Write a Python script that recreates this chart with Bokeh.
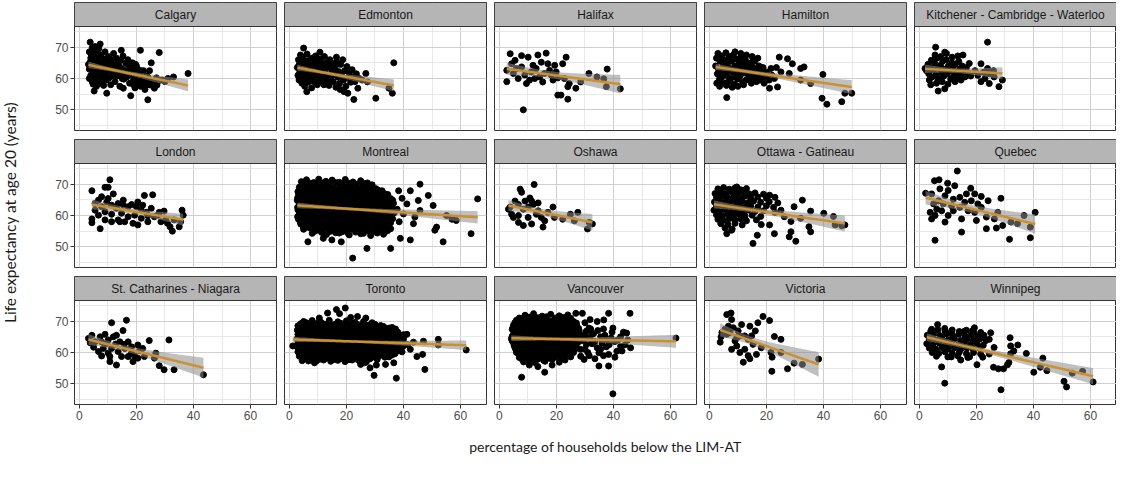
import numpy as np
from bokeh.plotting import figure
from bokeh.layouts import gridplot, row, column
from bokeh.models import Range1d, FixedTicker, Grid
from bokeh.core.properties import value
from bokeh.embed import file_html
from bokeh.resources import INLINE

# ---------------- data ----------------
cities = ["Calgary", "Edmonton", "Halifax", "Hamilton", "Kitchener - Cambridge - Waterloo",
          "London", "Montreal", "Oshawa", "Ottawa - Gatineau", "Quebec",
          "St. Catharines - Niagara", "Toronto", "Vancouver", "Victoria", "Winnipeg"]

x_ticks = [0, 20, 40, 60]
x_minor = [10, 30, 50]
y_ticks = [50, 60, 70]
y_minor = [45, 55, 65, 75]

x_title = "percentage of households below the LIM-AT"
y_title = "Life expectancy at age 20 (years)"

calgary = [(3.8,71.6),(7.3,71.0),(14.7,69.0),(21.4,69.0),(28.0,68.3),(38.1,61.6),(26.3,56.9),(27.2,57.9),(24.0,53.2),(18.0,54.5),(9.6,55.3),(5.2,56.0),(15.4,56.9),(25.2,65.0),(24.6,62.5),
 (3.5,63.0),(3.8,65.2),(4.0,61.0),(4.2,67.5),(4.5,59.0),(4.6,63.8),(5.0,66.0),(5.1,61.8),(5.3,68.5),(5.5,64.5),(5.6,60.0),(5.9,62.5),(6.0,57.5),(6.2,66.8),(6.4,64.0),(6.6,61.0),(6.8,69.5),(7.0,63.0),(7.1,58.5),(7.3,65.5),(7.6,67.5),(7.8,60.5),(8.0,62.0),(8.2,64.8),(8.5,57.8),(8.6,66.2),(8.9,61.5),(9.0,68.5),(9.3,63.5),(9.5,59.5),(9.8,65.8),(10.0,62.2),(10.2,67.0),(10.5,60.2),(10.7,64.2),(11.0,58.0),(11.2,66.0),(11.5,62.8),(11.8,61.0),(12.0,68.0),(12.3,64.5),(12.5,59.0),(12.8,63.2),(13.0,66.5),(13.3,60.8),(13.6,62.0),(14.0,64.0),(14.2,57.5),(14.5,65.8),(14.8,61.5),(15.0,63.0),(15.3,67.2),(15.6,59.8),(16.0,62.5),(16.3,64.8),(16.6,60.5),(17.0,66.0),(17.3,62.0),(17.6,58.5),(18.0,63.8),(18.3,61.0),(18.6,65.0),(19.0,59.5),(19.3,62.8),(19.7,64.5),(20.0,60.8),(20.4,63.0),(20.8,58.0),(21.2,61.8),(21.6,62.5),(22.0,60.0),(22.5,62.5),(23.0,59.0),(23.5,60.8),(24.0,60.5),(24.5,58.0),(25.0,59.5),(26.0,58.5),(27.5,59.0),(29.0,59.5),(31.0,60.0),(3.5,60.0),(4.0,64.5),(5.5,62.0),(6.0,65.0),(7.5,61.5),(9.0,64.0),(10.5,63.0),(12.0,61.0),(13.5,65.0),(16.0,61.0),(18.5,62.5),(20.0,64.0),(8.0,59.0),(11.0,64.5),(15.0,60.0),(17.5,63.5),(4.8,58.2),(6.5,59.5),(22.8,57.2),(19.5,57.0),
 (20.5,59.0),(21.5,57.5),(23.0,56.5),(24.0,58.5),(25.5,57.8),(26.5,59.2),(22.0,58.2),(19.0,58.0),(27.0,60.2),(30.0,59.0),(33.0,60.5),(3.5,68.5),(4.5,69.8),(5.5,70.2),(6.0,68.8),(4.0,66.5),(3.2,64.5),(5.0,67.2)]

edmonton = [(5.0,69.7),(10.7,68.4),(16.5,66.8),(36.6,65.0),(34.9,56.9),(36.1,55.3),(30.3,53.7),(22.6,53.3),(20.5,55.3),(24.0,56.9),(26.8,61.6),(27.4,58.9),(6.1,55.8),
 (2.8,63.5),(3.0,61.0),(3.2,66.0),(3.4,59.5),(3.5,64.5),(3.7,62.2),(3.9,67.5),(4.0,60.5),(4.2,65.0),(4.4,58.5),(4.6,63.0),(4.8,66.8),(5.0,61.5),(5.2,64.0),(5.4,57.5),(5.6,62.5),(5.8,65.5),(6.0,60.0),(6.2,67.8),(6.4,63.5),(6.6,58.8),(6.8,61.8),(7.0,65.8),(7.2,62.8),(7.4,59.8),(7.6,64.5),(7.8,57.0),(8.0,66.5),(8.2,61.2),(8.4,63.8),(8.6,59.0),(8.8,65.2),(9.0,62.0),(9.2,67.2),(9.4,60.5),(9.6,64.0),(9.8,58.0),(10.0,62.8),(10.3,65.5),(10.5,60.0),(10.8,63.2),(11.0,66.2),(11.3,58.8),(11.5,61.8),(11.8,64.5),(12.0,60.8),(12.3,67.0),(12.5,62.5),(12.8,59.2),(13.0,65.0),(13.3,61.2),(13.6,63.8),(13.9,57.8),(14.2,66.0),(14.5,60.2),(14.8,62.8),(15.1,64.8),(15.4,59.0),(15.7,61.5),(16.0,63.5),(16.3,57.2),(16.6,65.2),(17.0,60.5),(17.3,62.2),(17.6,58.5),(18.0,64.5),(18.3,61.0),(18.7,66.0),(19.0,59.5),(19.4,62.5),(19.8,57.5),(20.2,63.8),(20.6,60.2),(21.0,61.8),(21.5,58.8),(22.0,62.8),(22.5,60.5),(23.0,59.0),(23.5,61.5),(24.5,60.0),(25.5,59.5),(4.5,61.0),(5.5,60.0),(6.5,65.0),(7.5,61.0),(8.5,62.0),(9.5,66.0),(10.5,61.5),(11.5,63.5),(12.5,64.0),(13.5,60.0),(14.5,63.5),(15.5,62.5),(16.5,61.0),(3.3,64.0),(4.1,62.8),(5.9,63.8),(7.1,64.0),(8.9,60.2),(10.1,59.0),(12.1,58.0),(14.0,58.5),(17.8,56.5),(19.2,55.8)]

halifax = [(3.8,67.9),(5.5,65.8),(7.8,67.3),(10.1,66.8),(13.5,67.5),(16.4,68.1),(14.7,65.2),(17.0,64.7),(19.4,64.2),(23.4,66.8),(22.2,64.7),(2.6,59.0),(4.9,61.6),(6.6,60.0),(8.9,61.1),(11.2,62.1),(12.4,60.0),(14.1,60.5),(15.8,61.6),(18.2,61.1),(20.5,60.2),(22.8,60.0),(24.5,58.4),(26.8,56.9),(24.0,57.4),(31.4,61.6),(37.8,63.0),(36.6,59.9),(37.5,57.4),(42.4,56.7),(20.5,54.7),(21.6,54.7),(24.0,53.4),(8.4,50.0),(2.6,62.6),(4.3,64.7),(11.8,64.2),(12.9,63.2),(17.6,62.6),(19.9,62.1),(15.2,58.9),(9.5,58.4),(6.0,63.2),(18.8,59.5),(28.5,58.9),(34.2,60.5),(10.6,59.5),(7.8,63.7)]

hamilton = [(24.5,66.8),(27.4,66.3),(29.1,64.7),(28.0,61.6),(32.0,63.2),(33.2,63.7),(32.0,59.5),(35.5,58.4),(39.8,61.3),(39.5,53.7),(41.2,51.8),(46.4,52.6),(47.5,55.3),(49.9,55.3),(23.9,57.3),(21.1,56.9),(6.1,53.9),(22.8,60.0),(25.1,62.1),(19.9,60.5),(21.6,63.2),
 (2.2,64.0),(2.5,66.5),(2.8,61.5),(3.0,68.0),(3.2,63.0),(3.5,59.5),(3.8,65.5),(4.0,62.0),(4.2,67.2),(4.5,60.5),(4.8,64.2),(5.0,58.5),(5.2,66.0),(5.5,62.8),(5.8,68.2),(6.0,61.0),(6.3,64.8),(6.6,59.0),(6.9,66.8),(7.2,63.2),(7.5,60.0),(7.8,65.5),(8.1,62.0),(8.4,67.5),(8.7,58.2),(9.0,64.0),(9.3,61.2),(9.6,66.2),(9.9,59.8),(10.2,63.5),(10.5,65.2),(10.8,60.8),(11.1,67.0),(11.4,62.5),(11.7,58.8),(12.0,64.5),(12.3,61.8),(12.6,66.0),(12.9,59.5),(13.2,63.0),(13.5,65.0),(13.8,60.2),(14.1,62.2),(14.4,64.2),(14.7,58.5),(15.0,61.5),(15.3,63.5),(15.6,60.0),(15.9,65.5),(16.2,62.0),(16.5,59.0),(16.8,63.0),(17.1,61.0),(17.4,64.0),(17.7,59.5),(18.0,62.5),(18.4,60.5),(18.8,63.5),(19.2,58.5),(3.4,61.0),(4.4,63.0),(5.4,64.0),(6.4,62.5),(7.4,67.0),(8.4,63.0),(9.4,60.5),(10.4,62.0),(11.4,64.0),(12.4,63.2),(13.4,61.5),(14.4,60.5),(15.4,66.0),(2.6,58.5),(3.6,57.5),(6.0,57.8),(8.0,57.2),(10.0,57.5),(12.0,58.0),(9.0,68.5),(11.0,68.0),(13.0,67.5),(15.0,67.0),(17.0,66.5),(20.0,62.0),(21.0,59.5),(22.0,61.0),(23.5,63.5)]

kitchener = [(5.7,70.0),(23.9,71.6),(8.9,68.4),(15.3,67.5),(2.0,63.2),(6.6,59.5),(8.9,56.7),(6.6,56.0),(11.3,60.0),(14.6,59.5),(21.6,64.7),(23.9,63.2),(21.6,59.0),(24.5,58.4),(27.9,57.4),(29.1,59.5),(26.2,60.5),(15.9,62.6),
 (2.5,62.5),(3.0,64.5),(3.3,61.5),(3.8,63.5),(4.2,65.8),(4.5,60.5),(5.0,62.8),(5.4,64.8),(5.8,61.0),(6.2,66.5),(6.6,63.2),(7.0,60.0),(7.4,64.2),(7.8,62.0),(8.2,65.5),(8.6,60.8),(9.0,63.0),(9.4,66.0),(9.8,61.5),(10.2,64.0),(10.6,62.5),(11.0,59.8),(11.4,65.0),(11.8,63.5),(12.2,61.0),(12.6,64.5),(13.0,62.0),(13.4,60.0),(13.8,65.5),(14.2,63.0),(14.6,61.5),(15.0,64.0),(15.5,62.2),(16.0,60.5),(16.5,63.5),(17.0,61.8),(17.5,64.8),(18.0,60.8),(4.0,58.0),(6.0,58.5),(8.0,59.0),(10.0,58.2),(12.5,59.0),(5.5,67.5),(7.5,67.0),(9.5,68.0),(11.5,66.8),(13.5,67.2),(19.5,62.5),(20.5,61.0),(22.5,62.0),(24.5,61.5),(26.0,62.5),(23.0,60.0),(3.5,59.5)]

london = [(4.4,67.9),(10.7,71.4),(9.0,69.0),(10.1,69.0),(11.9,66.9),(22.8,66.4),(25.7,66.6),(4.4,58.9),(4.4,57.7),(7.3,55.8),(32.6,55.0),(31.8,56.4),(36.0,61.7),(36.4,60.1),(35.5,58.0),(35.0,56.4),(30.3,58.6),(29.7,61.4),(28.0,61.0),(26.3,59.6),(24.0,58.0),(20.5,57.0),(18.8,57.5),(15.9,58.0),(13.6,58.6),(11.3,58.0),(9.0,58.6),(6.7,60.1),(5.5,63.8),(7.8,62.8),(9.6,64.3),(11.3,63.3),(13.6,63.8),(15.4,63.3),(17.1,62.8),(18.3,63.5),(20.0,62.8),(21.7,61.7),(23.5,61.0),(25.2,62.3),(27.5,60.1),(14.8,60.7),(17.1,59.6),(19.4,60.1),(21.7,59.1),(24.0,59.9),(9.0,61.2),(11.3,60.4),(5.5,61.7),(13.0,62.3),(15.4,64.9),(20.5,64.3),(22.2,63.3),(33.2,58.6),(30.9,57.5),(28.6,58.0),(6.7,64.9),(7.8,66.0),(10.1,65.4),(14.2,58.0)]

montreal = [(4.2,70.8),(6.0,71.4),(8.5,70.5),(10.3,71.6),(12.8,70.9),(15.0,71.3),(17.5,70.6),(19.6,71.5),(22.3,70.7),(25.0,71.1),(27.4,70.4),
 (3.5,69.0),(5.3,69.6),(7.4,68.9),(9.2,69.5),(11.3,69.1),(13.5,69.7),(15.4,68.8),(17.6,69.4),(19.3,69.0),(21.5,69.6),(23.4,68.9),(25.6,69.3),(27.8,69.0),(30.2,68.6),
 (3.0,67.6),(5.0,68.1),(6.8,67.4),(9.0,67.9),(10.8,67.5),(13.0,68.2),(14.9,67.6),(17.0,67.9),(19.0,67.3),(21.0,68.0),(23.0,67.5),(25.0,67.8),(27.1,67.2),(29.0,67.7),(31.2,67.3),(33.5,66.9),
 (3.2,66.4),(5.4,66.0),(7.5,66.5),(9.6,65.9),(11.4,66.3),(13.4,66.1),(15.5,66.6),(17.6,65.8),(19.5,66.2),(21.6,66.5),(23.6,65.9),(25.5,66.3),(27.5,65.7),(29.6,66.1),(31.5,65.6),(33.6,66.0),(35.5,65.4),
 (2.8,64.8),(4.8,64.5),(6.8,65.0),(8.8,64.6),(10.8,64.9),(12.8,64.4),(14.8,64.8),(16.8,64.5),(18.8,65.0),(20.8,64.3),(22.8,64.7),(24.8,64.4),(26.8,64.9),(28.8,64.2),(30.8,64.6),(32.8,64.1),(34.8,64.5),(36.5,63.9),
 (3.5,63.3),(5.5,62.9),(7.5,63.4),(9.5,63.0),(11.5,63.5),(13.5,62.8),(15.5,63.2),(17.5,63.6),(19.5,62.9),(21.5,63.3),(23.5,62.7),(25.5,63.1),(27.5,63.4),(29.5,62.8),(31.5,63.0),(33.5,62.6),(35.5,63.2),
 (3.0,61.8),(5.0,61.4),(7.0,61.9),(9.0,61.5),(11.0,62.0),(13.0,61.3),(15.0,61.7),(17.0,61.2),(19.0,61.8),(21.0,61.4),(23.0,61.9),(25.0,61.3),(27.0,61.6),(29.0,61.1),(31.0,61.7),(33.0,61.2),(35.0,61.5),(36.8,60.9),
 (3.4,60.3),(5.4,59.9),(7.4,60.4),(9.4,60.0),(11.4,60.5),(13.4,59.8),(15.4,60.2),(17.4,60.6),(19.4,59.9),(21.4,60.3),(23.4,59.7),(25.4,60.1),(27.4,60.4),(29.4,59.8),(31.4,60.2),(33.4,59.6),(35.4,60.0),
 (3.2,58.8),(5.2,58.4),(7.2,58.9),(9.2,58.5),(11.2,59.0),(13.2,58.3),(15.2,58.7),(17.2,58.2),(19.2,58.8),(21.2,58.4),(23.2,58.9),(25.2,58.3),(27.2,58.6),(29.2,58.1),(31.2,58.7),(33.2,58.2),(35.2,58.5),
 (4.0,57.3),(6.0,56.9),(8.0,57.4),(10.0,57.0),(12.0,57.5),(14.0,56.8),(16.0,57.2),(18.0,57.6),(20.0,56.9),(22.0,57.3),(24.0,56.7),(26.0,57.1),(28.0,57.4),(30.0,56.8),(32.0,57.2),(34.0,56.6),
 (5.0,55.6),(7.5,56.0),(10.0,55.4),(12.5,55.9),(15.0,55.3),(17.0,55.8),(19.5,55.2),(22.0,55.7),(24.5,55.1),(27.0,55.6),(29.5,55.0),(32.0,55.5),(34.5,55.2),
 (8.0,54.3),(13.0,53.9),(17.5,54.4),(21.0,53.8),(25.0,54.2),(28.5,53.6),(33.0,54.0),
 (5.2,70.0),(7.3,70.3),(9.4,69.9),(11.6,70.4),(14.0,70.0),(16.2,70.5),(18.5,69.9),(20.8,70.3),(23.5,70.0),(26.2,70.2),(29.0,69.8),
 (4.2,68.3),(6.3,68.6),(8.2,68.2),(10.1,68.7),(12.2,68.3),(14.3,68.5),(16.3,68.1),(18.2,68.6),(20.3,68.2),(22.4,68.5),(24.4,68.1),(26.5,68.4),(28.7,68.0),(31.0,68.2),(32.5,67.9),
 (4.1,66.9),(6.2,67.2),(8.3,66.8),(10.2,67.1),(12.2,66.7),(14.2,67.2),(16.3,66.8),(18.3,67.0),(20.3,66.6),(22.3,67.1),(24.3,66.7),(26.3,67.0),(28.3,66.6),(30.3,66.9),(32.4,66.5),(34.5,66.7),
 (2.9,65.6),(4.3,65.3),(6.3,65.7),(8.4,65.2),(10.3,65.6),(12.4,65.3),(14.3,65.8),(16.4,65.2),(18.4,65.6),(20.3,65.3),(22.4,65.7),(24.2,65.2),(26.3,65.5),(28.4,65.1),(30.3,65.5),(32.3,65.0),(34.3,65.4),(36.2,64.9),
 (3.8,64.0),(5.8,63.7),(7.8,64.2),(9.8,63.8),(11.8,64.1),(13.8,63.6),(15.8,64.0),(17.8,63.7),(19.8,64.2),(21.8,63.8),(23.8,64.1),(25.8,63.6),(27.8,64.0),(29.8,63.5),(31.8,63.9),(33.8,63.4),(35.8,63.8),
 (2.9,62.6),(4.5,62.3),(6.5,62.7),(8.5,62.2),(10.5,62.6),(12.5,62.1),(14.5,62.5),(16.5,62.3),(18.5,62.7),(20.5,62.2),(22.5,62.5),(24.5,62.0),(26.5,62.4),(28.5,62.0),(30.5,62.3),(32.5,61.9),(34.5,62.2),(36.3,62.0),
 (4.0,61.0),(6.0,60.7),(8.0,61.2),(10.0,60.8),(12.0,61.1),(14.0,60.6),(16.0,61.0),(18.0,60.7),(20.0,61.2),(22.0,60.8),(24.0,61.1),(26.0,60.6),(28.0,60.9),(30.0,60.5),(32.0,60.9),(34.0,60.5),(36.0,60.7),
 (2.9,59.6),(4.4,59.3),(6.4,59.7),(8.4,59.2),(10.4,59.6),(12.4,59.1),(14.4,59.5),(16.4,59.2),(18.4,59.6),(20.4,59.1),(22.4,59.5),(24.4,59.0),(26.4,59.4),(28.4,59.0),(30.4,59.3),(32.4,58.9),(34.4,59.2),(36.2,59.0),
 (3.8,58.0),(5.8,57.7),(7.8,58.1),(9.8,57.8),(11.8,58.2),(13.8,57.6),(15.8,58.0),(17.8,57.7),(19.8,58.1),(21.8,57.6),(23.8,58.0),(25.8,57.5),(27.8,57.9),(29.8,57.5),(31.8,57.8),(33.8,57.4),(35.5,57.7),
 (4.8,56.5),(6.8,56.2),(8.8,56.6),(11.2,56.3),(13.5,56.5),(15.8,56.1),(18.2,56.4),(20.6,56.0),(23.0,56.3),(25.5,55.9),(28.0,56.2),(30.6,55.8),(33.0,56.1),(35.5,55.8),
 (9.0,55.0),(11.3,54.6),(14.2,54.9),(16.2,54.5),(18.5,54.8),(20.5,54.4),(23.2,54.7),(26.0,54.3),(28.2,54.8),(30.8,54.4),(33.5,54.7),
 (45.8,70.0),(48.7,66.4),(50.4,63.2),(66.0,65.3),(63.7,54.2),(53.9,51.6),(58.5,58.4),(55.1,60.0),(51.6,56.3),(51.0,55.3),(45.8,61.6),(43.5,57.4),(42.4,52.2),(38.9,52.7),(35.5,49.5),(27.2,49.5),(22.2,46.4),(18.2,51.6),(14.9,52.2),(11.9,52.7),(6.5,51.6),(41.2,63.7),(45.2,64.8),(42.4,67.9),(38.3,67.9),(40.0,60.5),(38.5,58.0),(39.5,65.5),(37.8,62.0),(44.0,59.5),(57.0,58.8)]

oshawa = [(7.3,68.4),(12.2,69.9),(7.8,67.4),(3.8,62.7),(3.2,62.0),(5.5,64.6),(9.0,64.6),(10.7,65.6),(13.6,64.0),(4.9,59.4),(6.7,60.0),(8.4,56.8),(11.3,57.3),(15.3,56.3),(14.7,59.4),(13.0,60.4),(17.0,61.0),(18.8,62.7),(19.3,59.4),(22.2,58.8),(24.9,60.4),(27.5,61.0),(26.3,58.3),(30.9,55.7),(32.6,57.3),(31.5,57.8),(10.1,62.7),(11.9,63.5),(6.7,63.5),(8.4,62.0),(4.3,60.4),(10.1,59.4),(13.6,61.5),(15.9,58.3),(6.7,57.8),(11.3,64.6)]

ottawa = [(3.0,68.5),(5.0,68.9),(7.0,68.4),(9.0,68.8),(11.0,68.2),(13.0,68.6),
 (2.0,67.0),(4.0,67.4),(6.0,67.0),(8.0,67.5),(10.0,67.1),(12.0,67.4),(14.0,66.9),(16.0,67.2),(19.0,66.8),
 (2.5,65.8),(4.5,66.1),(6.5,65.6),(8.5,66.0),(10.5,65.7),(12.5,66.2),(14.5,65.6),(17.0,65.9),(20.0,65.5),(23.0,65.8),
 (1.8,64.3),(3.5,64.6),(5.5,64.2),(7.5,64.7),(9.5,64.3),(11.5,64.5),(13.5,64.1),(15.5,64.6),(18.0,64.2),(21.0,64.4),(24.0,64.0),
 (2.5,63.0),(4.5,62.7),(6.5,63.2),(8.5,62.8),(10.5,63.1),(12.5,62.6),(14.5,63.0),(17.0,62.7),(20.0,63.1),(22.5,62.6),
 (1.6,61.7),(3.5,61.4),(5.5,61.8),(7.5,61.3),(9.5,61.6),(11.5,61.2),(13.5,61.7),(16.0,61.3),(19.0,61.5),(23.0,61.0),
 (2.5,60.2),(4.5,59.9),(6.5,60.4),(8.5,60.0),(10.5,60.3),(12.5,59.8),(15.0,60.1),(18.0,59.7),
 (3.0,58.8),(5.0,58.5),(7.0,59.0),(9.0,58.5),(11.0,58.9),(13.0,58.3),(16.5,58.6),
 (4.0,57.4),(6.5,57.1),(9.0,57.5),(11.5,57.0),(5.5,56.0),(8.0,55.7),
 (9.6,69.1),(21.1,66.5),(32.6,64.9),(29.7,62.8),(35.5,61.4),(40.1,60.7),(43.5,59.7),(44.1,57.0),(47.5,57.0),(46.4,56.7),(35.5,54.8),(34.9,56.4),(28.6,54.8),(30.3,51.8),(28.0,53.2),(22.8,54.2),(16.8,53.7),(15.3,51.1),(7.8,55.3),(6.1,54.2),(18.2,57.1),(21.1,57.0),(26.3,59.6),(25.1,61.7),(28.6,58.1),(32.0,59.1)]

quebec = [(13.3,74.2),(5.3,71.1),(6.9,71.4),(9.9,70.3),(12.4,69.5),(18.0,68.7),(2.2,67.1),(4.3,66.9),(19.4,66.9),(21.7,66.1),(28.6,65.5),(24.1,64.7),(20.5,63.7),(18.2,64.7),(15.9,64.2),(14.2,65.8),(11.9,65.2),(9.0,66.3),(6.7,64.7),(5.0,63.7),(3.8,61.0),(4.3,58.9),(5.5,60.0),(7.8,61.5),(10.1,60.0),(9.0,57.9),(14.8,58.9),(11.9,61.5),(17.1,61.5),(19.4,61.0),(21.7,62.6),(23.5,59.5),(26.3,58.9),(27.5,61.0),(29.2,56.8),(23.5,55.8),(27.0,56.0),(32.1,57.9),(34.4,57.4),(36.7,60.0),(40.6,61.0),(38.9,56.3),(38.9,52.9),(31.6,52.4),(14.8,54.7),(5.5,52.1),(20.0,58.4),(11.3,63.1),(14.2,62.6),(8.4,63.7),(6.1,62.0),(16.5,66.9),(10.1,68.0),(7.2,68.5)]

stcath = [(11.3,69.5),(16.5,70.3),(15.3,67.0),(31.4,64.0),(24.5,63.8),(43.5,52.9),(33.2,54.5),(29.7,54.5),(28.0,55.8),(26.3,58.2),(26.8,59.8),(22.8,58.7),(20.5,58.2),(18.8,57.1),(17.1,58.7),(13.0,56.0),(10.7,57.1),(10.7,58.7),(7.8,58.9),(5.0,61.7),(3.2,64.5),(4.4,65.5),(5.5,63.4),(7.3,65.0),(9.0,65.8),(9.6,62.9),(11.9,65.0),(13.0,65.5),(14.2,63.4),(11.3,61.3),(13.6,60.3),(15.9,61.3),(17.1,63.4),(18.3,61.8),(20.5,62.4),(21.1,60.6),(22.2,61.3),(8.4,61.3),(6.7,60.3),(10.1,64.0),(14.8,58.7),(18.3,59.8),(7.8,63.4),(3.8,63.1),(15.7,62.6),(12.7,62.7),(19.4,58.9),(10.1,59.8)]

toronto = [(5.0,69.9),(8.0,70.2),(11.0,69.7),(14.0,70.3),(17.0,69.8),(20.0,70.1),(23.0,69.6),(26.0,69.9),(29.0,69.5),
 (3.0,68.5),(5.0,68.9),(7.0,68.4),(9.0,68.8),(11.0,68.3),(13.0,68.9),(15.0,68.5),(17.0,68.7),(19.0,68.3),(21.0,68.8),(23.0,68.4),(25.0,68.6),(27.0,68.2),(29.0,68.5),(31.0,68.0),(33.0,68.3),(35.0,67.8),
 (2.8,67.1),(4.0,67.4),(6.0,67.0),(8.0,67.5),(10.0,67.1),(12.0,67.4),(14.0,66.9),(16.0,67.3),(18.0,67.0),(20.0,67.5),(22.0,67.1),(24.0,67.3),(26.0,66.9),(28.0,67.2),(30.0,66.8),(32.0,67.1),(34.0,66.7),(36.0,67.0),(38.0,66.5),
 (3.0,65.8),(5.0,66.1),(7.0,65.6),(9.0,66.0),(11.0,65.7),(13.0,66.2),(15.0,65.8),(17.0,66.0),(19.0,65.5),(21.0,65.9),(23.0,65.6),(25.0,66.0),(27.0,65.7),(29.0,65.9),(31.0,65.4),(33.0,65.8),(35.0,65.5),(37.0,65.9),(39.0,65.2),
 (2.7,64.3),(4.0,64.6),(6.0,64.2),(8.0,64.7),(10.0,64.3),(12.0,64.5),(14.0,64.1),(16.0,64.6),(18.0,64.2),(20.0,64.5),(22.0,64.0),(24.0,64.4),(26.0,64.1),(28.0,64.6),(30.0,64.2),(32.0,64.4),(34.0,64.0),(36.0,64.3),(38.0,63.9),(40.0,64.2),
 (3.0,63.0),(5.0,62.7),(7.0,63.2),(9.0,62.8),(11.0,63.1),(13.0,62.6),(15.0,63.0),(17.0,62.7),(19.0,63.2),(21.0,62.8),(23.0,63.1),(25.0,62.6),(27.0,63.0),(29.0,62.7),(31.0,63.1),(33.0,62.6),(35.0,62.9),(37.0,62.5),(39.0,62.8),
 (2.8,61.7),(4.0,61.4),(6.0,61.8),(8.0,61.3),(10.0,61.6),(12.0,61.2),(14.0,61.7),(16.0,61.4),(18.0,61.8),(20.0,61.3),(22.0,61.6),(24.0,61.2),(26.0,61.7),(28.0,61.3),(30.0,61.5),(32.0,61.1),(34.0,61.6),(36.0,61.2),(38.0,61.0),
 (3.0,60.2),(5.0,59.9),(7.0,60.4),(9.0,60.0),(11.0,60.3),(13.0,59.8),(15.0,60.2),(17.0,59.9),(19.0,60.4),(21.0,60.0),(23.0,60.3),(25.0,59.8),(27.0,60.1),(29.0,59.7),(31.0,60.2),(33.0,59.8),(35.0,60.0),(37.0,59.6),
 (3.5,58.8),(5.5,58.5),(7.5,59.0),(9.5,58.6),(11.5,58.9),(13.5,58.4),(15.5,58.8),(17.5,58.5),(19.5,58.9),(21.5,58.4),(23.5,58.7),(25.5,58.3),(27.5,58.8),(29.5,58.6),(31.5,58.9),(33.5,58.5),
 (4.5,57.4),(7.0,57.7),(9.5,57.3),(12.0,57.6),(14.5,57.2),(17.0,57.5),(19.5,57.1),(22.0,57.6),(24.5,57.3),(27.0,57.0),
 (4.0,69.2),(6.0,69.5),(8.0,69.0),(10.0,69.4),(12.0,69.1),(14.0,69.5),(16.0,69.0),(18.0,69.3),(20.0,68.9),(22.0,69.3),(24.0,68.9),(26.0,69.2),(28.0,68.8),(30.0,69.0),(32.0,68.6),
 (3.8,67.8),(5.8,68.1),(7.8,67.7),(9.8,68.0),(11.8,67.6),(13.8,68.1),(15.8,67.7),(17.8,67.9),(19.8,67.5),(21.8,68.0),(23.8,67.6),(25.8,67.8),(27.8,67.5),(29.8,67.8),(31.8,67.4),(33.8,67.6),(35.8,67.3),(37.2,67.5),
 (4.0,66.5),(6.0,66.2),(8.0,66.6),(10.0,66.3),(12.0,66.7),(14.0,66.3),(16.0,66.6),(18.0,66.2),(20.0,66.5),(22.0,66.2),(24.0,66.6),(26.0,66.2),(28.0,66.5),(30.0,66.1),(32.0,66.4),(34.0,66.0),(36.0,66.3),(38.0,65.9),(40.0,65.7),
 (3.6,65.1),(5.8,64.9),(7.8,65.3),(9.8,64.9),(11.8,65.2),(13.8,64.8),(15.8,65.1),(17.8,64.8),(19.8,65.2),(21.8,64.9),(23.8,65.3),(25.8,64.8),(27.8,65.1),(29.8,64.7),(31.8,65.0),(33.8,64.7),(35.8,65.0),(37.8,64.6),(39.8,64.9),
 (3.8,63.7),(5.8,63.4),(7.8,63.9),(9.8,63.5),(11.8,63.8),(13.8,63.4),(15.8,63.7),(17.8,63.3),(19.8,63.8),(21.8,63.4),(23.8,63.7),(25.8,63.3),(27.8,63.6),(29.8,63.3),(31.8,63.7),(33.8,63.3),(35.8,63.6),(37.8,63.2),(39.8,63.5),
 (3.9,62.3),(5.9,62.0),(7.9,62.5),(9.9,62.1),(11.9,62.4),(13.9,61.9),(15.9,62.3),(17.9,62.0),(19.9,62.4),(21.9,62.0),(23.9,62.3),(25.9,61.9),(27.9,62.2),(29.9,61.9),(31.9,62.3),(33.9,61.8),(35.9,62.1),(37.9,61.7),(39.9,62.0),
 (3.6,60.9),(5.9,60.6),(7.9,61.0),(9.9,60.7),(11.9,61.0),(13.9,60.5),(15.9,60.9),(17.9,60.6),(19.9,61.0),(21.9,60.6),(23.9,60.9),(25.9,60.5),(27.9,60.8),(29.9,60.4),(31.9,60.8),(33.9,60.4),(35.9,60.7),(37.5,60.3),
 (4.0,59.5),(6.0,59.2),(8.0,59.6),(10.0,59.3),(12.0,59.6),(14.0,59.1),(16.0,59.5),(18.0,59.2),(20.0,59.6),(22.0,59.2),(24.0,59.5),(26.0,59.0),(28.0,59.4),(30.0,59.1),(32.0,59.4),(34.0,59.0),(36.0,59.2),
 (5.5,58.1),(8.3,58.3),(10.8,57.9),(13.0,58.2),(15.8,57.8),(18.3,58.1),(20.8,57.7),(23.2,58.0),(25.8,57.7),(28.3,58.0),(30.8,57.8),
 (1.2,62.1),(16.5,73.7),(19.6,74.2),(13.4,72.6),(17.6,72.4),(23.9,71.5),(26.8,71.0),(52.2,64.2),(52.2,62.4),(47.0,63.6),(43.5,63.3),(42.4,61.0),(44.7,58.7),(46.7,59.4),(47.5,54.6),(37.5,51.8),(29.7,52.7),(28.3,55.1),(26.3,56.7),(36.6,56.7),(33.7,56.2),(34.9,58.6),(62.0,60.8),(6.7,57.3),(8.8,56.7),(40.0,65.3),(41.2,65.8),(36.0,68.0),(33.2,67.5),(41.5,62.5),(39.5,60.2),(30.5,56.0),(25.0,56.2),(10.5,71.0),(21.5,71.2)]

vancouver = [(9.0,71.9),(12.0,72.4),(15.0,71.6),(18.0,72.2),(21.0,71.7),(24.0,72.0),
 (6.0,70.3),(8.0,70.7),(10.0,70.2),(12.0,70.6),(14.0,70.1),(16.0,70.5),(18.0,70.0),(20.0,70.6),(22.0,70.2),(24.0,70.4),(26.0,69.9),
 (5.0,68.8),(7.0,69.2),(9.0,68.7),(11.0,69.1),(13.0,68.6),(15.0,69.0),(17.0,68.5),(19.0,69.2),(21.0,68.8),(23.0,69.0),(25.0,68.5),(27.0,68.8),
 (4.5,67.4),(6.0,67.7),(8.0,67.2),(10.0,67.6),(12.0,67.1),(14.0,67.5),(16.0,67.0),(18.0,67.6),(20.0,67.2),(22.0,67.4),(24.0,67.0),(26.0,67.3),(28.0,66.9),
 (5.0,66.0),(7.0,65.7),(9.0,66.2),(11.0,65.8),(13.0,66.1),(15.0,65.6),(17.0,66.0),(19.0,65.7),(21.0,66.2),(23.0,65.8),(25.0,66.0),(27.0,65.5),
 (4.2,64.4),(6.0,64.7),(8.0,64.3),(10.0,64.6),(12.0,64.2),(14.0,64.7),(16.0,64.3),(18.0,64.5),(20.0,64.1),(22.0,64.6),(24.0,64.2),(26.0,64.5),(28.0,64.0),
 (5.0,63.0),(7.0,62.7),(9.0,63.2),(11.0,62.8),(13.0,63.1),(15.0,62.6),(17.0,63.0),(19.0,62.7),(21.0,63.2),(23.0,62.8),(25.0,63.0),(27.0,62.5),
 (5.5,61.4),(7.0,61.7),(9.0,61.2),(11.0,61.6),(13.0,61.1),(15.0,61.5),(17.0,61.0),(19.0,61.6),(21.0,61.2),(23.0,61.4),(25.0,61.0),(27.0,61.3),
 (6.0,60.0),(8.0,59.7),(10.0,60.2),(12.0,59.8),(14.0,60.1),(16.0,59.6),(18.0,60.0),(20.0,59.7),(22.0,60.2),(24.0,59.8),(26.0,60.0),
 (7.0,58.4),(9.5,58.7),(12.0,58.3),(14.5,58.6),(17.0,58.2),(19.5,58.5),(22.0,58.2),(25.0,58.6),
 (8.5,57.0),(12.5,56.8),(16.0,57.2),(21.0,56.9),
 (7.0,71.0),(10.5,71.3),(13.5,71.1),(16.5,71.4),(19.5,71.0),(22.5,71.2),(25.0,70.9),
 (5.5,69.6),(7.0,69.9),(9.0,69.5),(11.0,69.8),(13.0,69.4),(15.0,69.9),(17.0,69.4),(19.0,69.7),(21.0,69.5),(23.0,69.8),(25.0,69.3),(27.0,69.4),
 (4.8,68.1),(6.0,68.3),(8.0,67.9),(10.0,68.3),(12.0,67.9),(14.0,68.2),(16.0,67.8),(18.0,68.3),(20.0,67.9),(22.0,68.1),(24.0,67.8),(26.0,68.1),(27.8,67.7),
 (5.5,66.7),(7.0,66.5),(9.0,66.9),(11.0,66.4),(13.0,66.8),(15.0,66.3),(17.0,66.7),(19.0,66.4),(21.0,66.8),(23.0,66.4),(25.0,66.6),(27.0,66.2),
 (4.5,65.2),(6.0,65.0),(8.0,65.4),(10.0,65.0),(12.0,65.3),(14.0,64.9),(16.0,65.2),(18.0,64.9),(20.0,65.3),(22.0,64.9),(24.0,65.2),(26.0,64.8),(28.0,65.0),
 (4.5,63.7),(6.0,63.5),(8.0,63.9),(10.0,63.5),(12.0,63.8),(14.0,63.4),(16.0,63.7),(18.0,63.4),(20.0,63.8),(22.0,63.4),(24.0,63.6),(26.0,63.3),(28.0,63.5),
 (5.2,62.2),(6.0,62.0),(8.0,62.4),(10.0,62.0),(12.0,62.3),(14.0,61.9),(16.0,62.2),(18.0,61.9),(20.0,62.3),(22.0,61.9),(24.0,62.1),(26.0,61.8),
 (6.0,60.7),(8.0,60.5),(10.0,60.9),(12.0,60.5),(14.0,60.8),(16.0,60.4),(18.0,60.7),(20.0,60.4),(22.0,60.8),(24.0,60.4),(26.0,60.6),
 (7.0,59.2),(9.0,59.0),(11.0,59.4),(13.0,59.0),(15.0,59.3),(17.0,58.9),(19.0,59.2),(21.0,58.9),(23.0,59.2),(25.0,58.8),
 (8.0,57.8),(10.5,57.6),(13.5,57.9),(15.5,57.5),(18.5,57.8),(23.0,57.6),
 (7.8,52.1),(15.9,53.7),(39.8,46.8),(45.8,72.5),(38.3,72.5),(34.3,69.9),(36.6,70.4),(39.8,67.8),(44.6,66.2),(44.1,62.5),(41.2,60.4),(38.3,59.4),(34.9,59.9),(34.9,55.7),(38.3,55.7),(29.7,57.8),(28.5,58.8),(31.4,67.8),(29.1,72.5),(26.8,72.5),(36.0,63.0),(39.2,64.6),(61.9,64.6),(32.0,64.1),(34.3,61.5),(30.5,62.5),(31.0,60.0),(33.0,66.0),(37.0,65.5),(29.5,65.5),(30.0,69.5),(10.5,56.0),(13.5,55.5),(18.5,56.0),
 (32.5,62.8),(35.5,65.0),(37.5,61.8),(40.5,63.5),(42.5,65.0),(33.5,58.0),(36.5,67.5),(30.8,64.8),(31.8,70.5),(43.0,60.5),
 (28.5,61.0),(29.5,63.8),(30.5,66.8),(31.5,59.0),(32.5,65.8),(33.5,63.5),(34.5,67.0),(35.5,61.0),(36.5,59.0),(37.5,64.0),(38.5,62.5),(39.5,66.5),(40.5,58.5),(41.5,64.0),(42.5,62.0),(43.5,66.5),(45.0,64.0),(46.0,61.5),(30.0,61.0),(32.0,67.5)]

victoria = [(6.1,72.1),(7.6,72.6),(7.8,70.5),(18.8,71.5),(21.1,70.2),(3.8,63.3),(4.1,65.0),(5.5,67.4),(6.7,68.4),(7.2,66.4),(8.4,67.9),(10.1,66.9),(11.3,68.9),(10.7,65.3),(9.0,63.7),(7.8,61.0),(9.6,62.1),(10.7,60.0),(12.4,61.0),(11.9,56.9),(13.6,59.0),(14.2,58.0),(16.5,59.4),(13.6,64.2),(14.8,65.3),(14.2,68.4),(16.1,66.9),(17.0,69.5),(18.2,61.5),(15.3,62.6),(22.8,65.1),(25.1,64.2),(25.1,60.0),(21.6,60.0),(22.0,58.5),(21.9,54.0),(27.4,54.8),(29.7,56.6),(32.6,56.2),(38.3,57.9),(12.4,65.3),(9.6,64.7),(6.1,65.8),(4.4,66.4)]

winnipeg = [(4.0,66.8),(6.5,67.3),(9.0,66.9),(11.5,67.2),(14.0,66.7),(16.5,67.1),(19.0,66.6),(21.5,66.4),
 (2.8,65.5),(5.0,65.8),(7.2,65.4),(9.4,65.9),(11.6,65.5),(13.8,65.8),(16.0,65.3),(18.2,65.7),(20.4,65.2),(22.6,65.5),
 (3.5,64.2),(5.7,63.9),(7.9,64.4),(10.1,64.0),(12.3,64.3),(14.5,63.8),(16.7,64.2),(18.9,63.9),(21.1,64.3),(23.3,63.8),
 (2.6,62.8),(4.8,62.5),(7.0,63.0),(9.2,62.6),(11.4,62.9),(13.6,62.4),(15.8,62.8),(18.0,62.5),(20.2,62.9),(22.4,62.3),
 (3.5,61.4),(5.7,61.1),(7.9,61.6),(10.1,61.2),(12.3,61.5),(14.5,61.0),(16.7,61.4),(18.9,61.1),(21.1,61.3),
 (4.5,60.0),(6.8,59.7),(9.0,60.2),(11.5,59.8),(14.0,60.1),(16.5,59.6),(19.0,60.0),(21.5,59.5),
 (6.0,58.8),(10.0,58.6),(13.5,58.9),(17.0,58.4),
 (6.4,68.9),(4.3,67.4),(8.9,67.7),(11.2,66.6),(15.8,66.8),(19.3,67.9),(18.7,67.0),(25.0,66.3),(24.5,64.2),(31.8,64.7),(34.5,62.4),(32.0,62.1),(37.5,59.7),(33.1,60.5),(32.0,59.6),(31.4,56.8),(30.9,56.1),(26.0,55.3),(27.7,54.8),(29.5,54.8),(28.6,48.1),(20.2,56.1),(17.6,58.6),(14.5,57.6),(11.2,58.6),(7.8,55.4),(8.9,50.2),(40.1,53.7),(43.3,58.2),(42.4,55.3),(44.7,54.2),(50.7,50.8),(51.6,49.0),(53.6,53.4),(57.2,54.0),(60.9,50.6),(26.2,61.6),(24.5,59.5),(22.2,58.5)]

city_points = [calgary, edmonton, halifax, hamilton, kitchener,
               london, montreal, oshawa, ottawa, quebec,
               stcath, toronto, vancouver, victoria, winnipeg]

# ---------------- styling / layout ----------------
X_LO, X_HI = -1.7, 69.1
Y_LO, Y_HI = 43.4, 76.6
FW, PH, SH = 202, 104, 24
FH = PH + SH
Y_TOP = Y_LO + (Y_HI - Y_LO) * FH / PH

TW = 30            # width of the y-title strip
LEFT0 = 44         # room for y tick labels
BOT = 22           # room for x tick labels
GRID_H = 2 + FH + 4 + 5 + FH + 4 + 5 + FH + BOT
GRID_W = (LEFT0 + FW + 4) + 3 * (4 + FW + 4) + (4 + FW)
XT_H = 40

STRIP_FILL = "#b5b5b5"
BORDER = "#333333"
MAJOR = "#cfcfcf"
MINOR = "#e2e2e2"
FIT = "#cc902f"
BAND = "#8c8c8c"
TICK_FONT = "Liberation Sans"
TITLE_FONT = "Lato"


def panel(name, pts, r, c):
    p = figure(frame_width=FW, frame_height=FH,
               x_range=Range1d(X_LO, X_HI), y_range=Range1d(Y_LO, Y_TOP),
               output_backend="svg", toolbar_location=None,
               x_axis_location="below" if r == 2 else None,
               y_axis_location="left" if c == 0 else None,
               min_border_left=LEFT0 if c == 0 else 4,
               min_border_right=0 if c == 4 else 4,
               min_border_top=2 if r == 0 else 5,
               min_border_bottom=BOT if r == 2 else 4,
               background_fill_color="white", border_fill_color="white")
    p.grid.visible = False
    p.outline_line_color = BORDER
    p.outline_line_width = 1

    gx = Grid(dimension=0, ticker=FixedTicker(ticks=x_ticks, minor_ticks=x_minor),
              grid_line_color=MAJOR, grid_line_width=1,
              minor_grid_line_color=MINOR, minor_grid_line_width=0.8)
    gy = Grid(dimension=1, ticker=FixedTicker(ticks=y_ticks, minor_ticks=y_minor),
              grid_line_color=MAJOR, grid_line_width=1,
              minor_grid_line_color=MINOR, minor_grid_line_width=0.8)
    p.add_layout(gx)
    p.add_layout(gy)

    for ax, ticks in ((p.xaxis, x_ticks), (p.yaxis, y_ticks)):
        for a in ax:
            a.ticker = FixedTicker(ticks=ticks)
            a.axis_line_color = None
            a.major_tick_line_color = BORDER
            a.major_tick_out = 4
            a.major_tick_in = 0
            a.minor_tick_line_color = None
            a.major_label_text_font = TICK_FONT
            a.major_label_text_font_size = "12px"
            a.major_label_text_color = "#4d4d4d"
            a.major_label_standoff = 2

    xs = np.array([q[0] for q in pts])
    ys = np.array([q[1] for q in pts])
    p.scatter(xs, ys, size=6, color="black")

    # linear fit with 95% confidence band (as geom_smooth(method="lm"))
    b, a = np.polyfit(xs, ys, 1)
    n = len(xs)
    resid = ys - (a + b * xs)
    s = np.sqrt(np.sum(resid ** 2) / (n - 2))
    xbar = xs.mean()
    sxx = np.sum((xs - xbar) ** 2)
    tq = 1.96 + 2.4 / (n - 2)
    xx = np.linspace(xs.min(), xs.max(), 80)
    yy = a + b * xx
    se = s * np.sqrt(1.0 / n + (xx - xbar) ** 2 / sxx)
    p.varea(x=xx, y1=yy - tq * se, y2=yy + tq * se, fill_color=BAND, fill_alpha=0.55)
    p.line(xx, yy, line_color=FIT, line_width=2.5)

    # facet strip
    p.quad(left=[X_LO], right=[X_HI], bottom=[Y_HI], top=[Y_TOP],
           fill_color=STRIP_FILL, line_color=BORDER, line_width=1)
    p.text(x=[(X_LO + X_HI) / 2], y=[(Y_HI + Y_TOP) / 2], text=[name],
           text_align="center", text_baseline="middle",
           text_font=value(TICK_FONT), text_font_size="12px", text_color="#1a1a1a")
    return p


def blank(w, h):
    f = figure(width=w, height=h, x_range=Range1d(0, w), y_range=Range1d(0, h),
               output_backend="svg", toolbar_location=None,
               x_axis_location=None, y_axis_location=None, min_border=0,
               background_fill_color="white", border_fill_color="white")
    f.grid.visible = False
    f.outline_line_color = None
    return f


rows = []
for r in range(3):
    rr = []
    for c in range(5):
        k = r * 5 + c
        rr.append(panel(cities[k], city_points[k], r, c))
    rows.append(rr)
grid = gridplot(rows, toolbar_location=None)

# y-axis title
yt = blank(TW, GRID_H)
yt.text(x=[9.5], y=[GRID_H - 212], text=[y_title], angle=np.pi / 2,
        text_align="center", text_baseline="middle",
        text_font=value(TITLE_FONT), text_font_size="15.5px", text_color="#1a1a1a")

# x-axis title
xt = blank(TW + GRID_W, XT_H)
xt.text(x=[613 - 8], y=[XT_H - 20], text=[x_title],
        text_align="center", text_baseline="middle",
        text_font=value(TITLE_FONT), text_font_size="14px", text_color="#1a1a1a")

layout = column(row(yt, grid), xt)
open("out.html", "w").write(file_html(layout, INLINE))
